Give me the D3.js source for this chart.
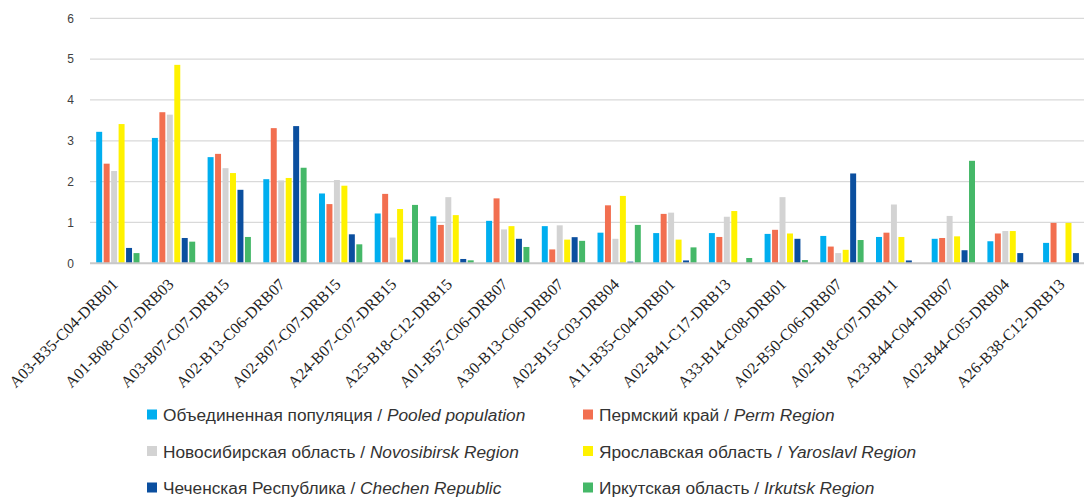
<!DOCTYPE html>
<html>
<head>
<meta charset="utf-8">
<script src="https://cdn.jsdelivr.net/npm/d3@7"></script>
<style>
  html, body { margin: 0; padding: 0; background: #fff; }
  svg { display: block; }
  .xlab { font-family: 'Liberation Serif', 'Times New Roman', 'DejaVu Serif', serif; }
  .sans { font-family: 'Liberation Sans', Arial, sans-serif; }
</style>
</head>
<body>
<svg id="chart" width="1084" height="499"></svg>
<script>
const categories = [
  "A03-B35-C04-DRB01", "A01-B08-C07-DRB03", "A03-B07-C07-DRB15", "A02-B13-C06-DRB07",
  "A02-B07-C07-DRB15", "A24-B07-C07-DRB15", "A25-B18-C12-DRB15", "A01-B57-C06-DRB07",
  "A30-B13-C06-DRB07", "A02-B15-C03-DRB04", "A11-B35-C04-DRB01", "A02-B41-C17-DRB13",
  "A33-B14-C08-DRB01", "A02-B50-C06-DRB07", "A02-B18-C07-DRB11", "A23-B44-C04-DRB07",
  "A02-B44-C05-DRB04", "A26-B38-C12-DRB13"
];
const seriesRu = ["Объединенная популяция", "Пермский край", "Новосибирская область",
  "Ярославская область", "Чеченская Республика", "Иркутская область"];
const seriesEn = ["Pooled population", "Perm Region", "Novosibirsk Region",
  "Yaroslavl Region", "Chechen Republic", "Irkutsk Region"];
const pooled      = [3.22, 3.07, 2.60, 2.06, 1.71, 1.22, 1.15, 1.04, 0.91, 0.75, 0.74, 0.74, 0.72, 0.67, 0.645, 0.60, 0.54, 0.50];
const perm        = [2.44, 3.70, 2.68, 3.31, 1.45, 1.70, 0.94, 1.59, 0.34, 1.42, 1.21, 0.645, 0.82, 0.41, 0.75, 0.62, 0.73, 0.99];
const novosibirsk = [2.26, 3.64, 2.33, 2.03, 2.04, 0.63, 1.62, 0.83, 0.93, 0.60, 1.24, 1.14, 1.62, 0.25, 1.44, 1.16, 0.79, 0];
const yaroslavl   = [3.41, 4.86, 2.21, 2.09, 1.90, 1.33, 1.18, 0.91, 0.58, 1.65, 0.58, 1.28, 0.73, 0.33, 0.645, 0.66, 0.79, 0.99];
const chechen     = [0.376, 0.62, 1.80, 3.36, 0.71, 0.09, 0.106, 0.60, 0.64, 0.04, 0.07, 0, 0.60, 2.20, 0.07, 0.32, 0.25, 0.25];
const irkutsk     = [0.25, 0.53, 0.645, 2.34, 0.465, 1.43, 0.073, 0.40, 0.55, 0.94, 0.39, 0.13, 0.08, 0.57, 0, 2.51, 0, 0];
const yTicks = [0, 1, 2, 3, 4, 5, 6];

const seriesValues = [pooled, perm, novosibirsk, yaroslavl, chechen, irkutsk];
const colors = ["#00aeef", "#f26f50", "#d3d3d3", "#fff200", "#0b4f9f", "#45b868"];

const svg = d3.select("#chart");
const W = 1084, H = 499;
const plotLeft = 90, plotRight = 1092.6, plotTop = 18.3, plotBottom = 263.3;

const x0 = d3.scaleBand().domain(categories).range([plotLeft, plotRight])
  .paddingInner(0.2226).paddingOuter(0.1113);
const keys = d3.range(seriesValues.length);
const x1 = d3.scaleBand().domain(keys).range([0, x0.bandwidth()]).paddingInner(0.2).paddingOuter(0);
const y = d3.scaleLinear().domain([0, 6]).range([plotBottom, plotTop]);

// gridlines
svg.append("g").selectAll("line").data(yTicks.filter(d => d > 0)).join("line")
  .attr("x1", plotLeft).attr("x2", W)
  .attr("y1", d => y(d)).attr("y2", d => y(d))
  .attr("stroke", "#d9d9d9").attr("stroke-width", 1.3);

// y axis labels
const yAxis = d3.axisLeft(y).tickValues(yTicks).tickSize(0).tickPadding(16).tickFormat(d3.format("d"));
const ya = svg.append("g").attr("transform", `translate(${plotLeft},0)`).call(yAxis);
ya.attr("font-family", null);
ya.select(".domain").remove();
ya.selectAll("text").attr("class", "sans")
  .attr("font-size", 12).attr("fill", "#404040");

// bars
const groups = svg.append("g").selectAll("g").data(categories).join("g")
  .attr("transform", d => `translate(${x0(d)},0)`);
groups.selectAll("rect").data((d, i) => keys.map(k => ({k, v: seriesValues[k][i]})))
  .join("rect")
  .attr("x", d => x1(d.k))
  .attr("width", x1.bandwidth())
  .attr("y", d => y(d.v))
  .attr("height", d => y(0) - y(d.v))
  .attr("fill", d => colors[d.k]);

// baseline
svg.append("line").attr("x1", plotLeft).attr("x2", W)
  .attr("y1", y(0)).attr("y2", y(0))
  .attr("stroke", "#c8c8c8").attr("stroke-width", 2);

// x axis labels
const xAxis = d3.axisBottom(x0).tickSize(0).tickPadding(0);
const xa = svg.append("g").attr("transform", `translate(0,${plotBottom})`).call(xAxis);
xa.attr("font-family", null);
xa.select(".domain").remove();
xa.selectAll("text")
  .attr("class", "xlab")
  .attr("font-size", 16).attr("fill", "#222")
  .attr("text-anchor", "end")
  .attr("dy", null).attr("y", 0)
  .attr("transform", "translate(1,22) rotate(-45)");

// legend
const legX = [147, 583];
const legY = [421, 457.5, 494];
const leg = svg.append("g").selectAll("g").data(keys).join("g")
  .attr("transform", k => `translate(${legX[k % 2]},${legY[Math.floor(k / 2)]})`);
leg.append("rect").attr("x", 0).attr("y", -11.5).attr("width", 10).attr("height", 10)
  .attr("fill", k => colors[k]);
const lt = leg.append("text").attr("class", "sans").attr("x", 16).attr("y", 0)
  .attr("font-size", 17.3).attr("fill", "#333");
lt.append("tspan").text(k => seriesRu[k] + " / ");
lt.append("tspan").attr("font-style", "italic").text(k => seriesEn[k]);
</script>
</body>
</html>
